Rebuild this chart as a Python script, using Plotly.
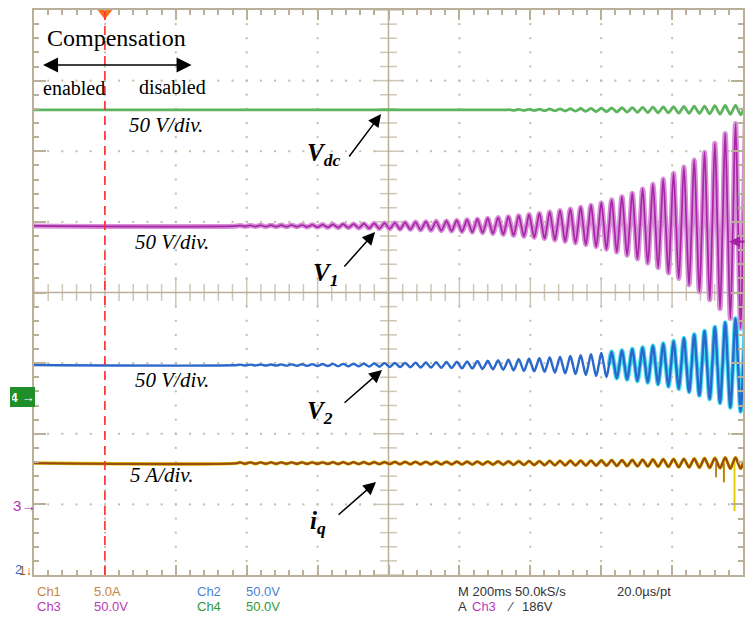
import plotly.graph_objects as go

# ---------------- data (screen divisions: x 0..10, y -4..4) ----------------
baseline_vdc = 2.585
baseline_v1 = 0.942
baseline_v2 = -1.027
baseline_iq = -2.415

cycle_start = 2.869     # div, where ripple starts to be visible
cycle_period = 0.1456   # div per oscillation cycle

# peak amplitude of each cycle (div)
vdc_amp = [0.0] * 26 + [0.005, 0.007, 0.009, 0.011, 0.013, 0.015, 0.017, 0.020, 0.022, 0.025,
                        0.028, 0.031, 0.034, 0.037, 0.040, 0.043, 0.046, 0.049, 0.052, 0.055,
                        0.059, 0.063, 0.068, 0.073]
v1_amp = [0.007, 0.008, 0.010, 0.011, 0.012, 0.013,
          0.014, 0.017, 0.020, 0.023, 0.025, 0.028, 0.033, 0.037, 0.041, 0.045,
          0.050, 0.055, 0.061, 0.067, 0.072, 0.079, 0.088, 0.096, 0.108, 0.119,
          0.132, 0.146, 0.161, 0.178, 0.198, 0.218, 0.241, 0.266, 0.295, 0.330,
          0.370, 0.415, 0.465, 0.525, 0.590, 0.665, 0.745, 0.835, 0.935, 1.045,
          1.170, 1.310, 1.450, 1.560]
v2_amp = [0.006, 0.006, 0.007, 0.008, 0.009, 0.010,
          0.011, 0.013, 0.014, 0.016, 0.017, 0.018, 0.021, 0.024, 0.027, 0.028,
          0.031, 0.034, 0.037, 0.040, 0.042, 0.047, 0.051, 0.057, 0.062, 0.068,
          0.074, 0.081, 0.088, 0.096, 0.106, 0.116, 0.127, 0.140, 0.154, 0.170,
          0.187, 0.205, 0.227, 0.248, 0.272, 0.305, 0.340, 0.382, 0.432, 0.482,
          0.538, 0.602, 0.659, 0.708]
iq_amp = [0.010] * 6 + [0.011, 0.011, 0.011, 0.013, 0.013, 0.013, 0.014, 0.014, 0.014, 0.016,
                        0.016, 0.017, 0.017, 0.018, 0.018, 0.020, 0.020, 0.021, 0.021, 0.023,
                        0.024, 0.025, 0.027, 0.028, 0.030, 0.031, 0.033, 0.034, 0.035, 0.037,
                        0.040, 0.042, 0.045, 0.048, 0.051, 0.054, 0.057, 0.059, 0.064, 0.068,
                        0.071, 0.078, 0.078, 0.078]
iq_spike_t = [9.62, 9.73, 9.88]
iq_spike_dy = [-0.20, -0.27, -0.68]
cursor_t = 1.0            # dashed "compensation disabled" cursor
trigger_level = 0.72      # right-hand trigger arrow (div)
cyan_from = 8.0           # V2 bright (cyan) part begins

# ---------------- layout geometry (pixels) ----------------
W, H = 748, 619
L, R, T, B = 34, 745, 10, 575
DX = (R - L) / 10.0
DY = (B - T) / 8.0


def PX(px):
    return (px - L) / (R - L)


def PY(py):
    return (B - py) / (B - T)


def wave(base, amps, tmin=None):
    xs, ys = ([0.0], [base]) if tmin is None else ([], [])
    for k, a in enumerate(amps):
        x0 = cycle_start + k * cycle_period
        if tmin is not None and x0 < tmin:
            continue
        for f, s in ((0.0, 0), (0.25, 1), (0.5, 0), (0.75, -1)):
            xs.append(x0 + f * cycle_period)
            ys.append(base + s * a)
    return xs, ys


TAN = "#bab09a"
DOT = "#c4bba6"
fig = go.Figure()

# dotted grid
gx, gy = [], []
for i in range(1, 10):
    if i == 5:
        continue
    for j in range(0, 41):
        gx.append(i); gy.append(-4 + j * 0.2)
for i in range(-3, 4):
    if i == 0:
        continue
    for j in range(0, 51):
        gx.append(j * 0.2); gy.append(i)
fig.add_trace(go.Scatter(x=gx, y=gy, mode="markers",
                         marker=dict(symbol="square", size=2, color=DOT), hoverinfo="skip"))

# centre cross with ticks
fig.add_shape(type="line", x0=5, x1=5, y0=-4, y1=4, line=dict(color=TAN, width=1.5), layer="below")
fig.add_shape(type="line", x0=0, x1=10, y0=0, y1=0, line=dict(color=TAN, width=1.5), layer="below")
tyv = [round(-4 + j * 0.2, 3) for j in range(41)]
txv = [round(j * 0.2, 3) for j in range(51)]
fig.add_trace(go.Scatter(x=[5] * len(tyv), y=tyv, mode="markers",
                         marker=dict(symbol="line-ew", size=[20 if abs(v - round(v)) < 1e-6 else 12 for v in tyv],
                                     line=dict(color=TAN, width=1.5)), hoverinfo="skip"))
fig.add_trace(go.Scatter(x=txv, y=[0] * len(txv), mode="markers",
                         marker=dict(symbol="line-ns", size=[20 if abs(v - round(v)) < 1e-6 else 12 for v in txv],
                                     line=dict(color=TAN, width=1.5)), hoverinfo="skip"))

# cursor
fig.add_shape(type="line", x0=cursor_t, x1=cursor_t, y0=-4, y1=4,
              line=dict(color="#ff2a2a", width=1.6, dash="9px,6px"))

# ---- traces ----
x, y = wave(baseline_vdc, vdc_amp)
fig.add_trace(go.Scatter(x=x, y=y, mode="lines", line=dict(color="#5cb55c", width=2.8, shape="spline", smoothing=1)))

x, y = wave(baseline_v1, v1_amp)
fig.add_trace(go.Scatter(x=x, y=y, mode="lines", line=dict(color="#d88fd8", width=5, shape="spline", smoothing=1)))
fig.add_trace(go.Scatter(x=x, y=y, mode="lines", line=dict(color="#a626a6", width=1.7, shape="spline", smoothing=1)))

x, y = wave(baseline_v2, v2_amp, tmin=cyan_from)
fig.add_trace(go.Scatter(x=x, y=y, mode="lines", line=dict(color="#3fdcf0", width=4.5, shape="spline", smoothing=1)))
x, y = wave(baseline_v2, v2_amp)
fig.add_trace(go.Scatter(x=x, y=y, mode="lines", line=dict(color="#2b68cc", width=2.4, shape="spline", smoothing=1)))

x, y = wave(baseline_iq, iq_amp)
fig.add_trace(go.Scatter(x=x, y=y, mode="lines", line=dict(color="#e3d000", width=3.4, shape="spline", smoothing=1)))
sx, sy = [], []
for t, d in zip(iq_spike_t, iq_spike_dy):
    sx += [t, t, None]; sy += [baseline_iq, baseline_iq + d, None]
fig.add_trace(go.Scatter(x=sx, y=sy, mode="lines", line=dict(color="#e3d000", width=2)))
fig.add_trace(go.Scatter(x=x, y=y, mode="lines", line=dict(color="#9a4a12", width=2.3, shape="spline", smoothing=1)))
fig.add_trace(go.Scatter(x=sx[:6], y=sy[:6], mode="lines", line=dict(color="#b06a30", width=1.5)))

# trigger position marker (top)
fig.add_trace(go.Scatter(x=[cursor_t], y=[4 - 3 / DY], mode="markers", cliponaxis=False,
                         marker=dict(symbol="triangle-down", size=13, color="#ff6d1a"), hoverinfo="skip"))

ann = []
serif = "Liberation Serif, Times New Roman, serif"


def txt(s, px, py, size, color="black", xanchor="left", family=serif, **kw):
    ann.append(dict(text=s, x=PX(px), y=PY(py), xref="paper", yref="paper", showarrow=False,
                    xanchor=xanchor, yanchor="middle", font=dict(family=family, size=size, color=color), **kw))


def arrow(x0, y0, x1, y1, **kw):
    d = dict(text="", x=PX(x1), y=PY(y1), ax=x0 - x1, ay=y0 - y1, xref="paper", yref="paper",
             axref="pixel", ayref="pixel",
             showarrow=True, arrowhead=2, arrowsize=1.7, arrowwidth=1.5, arrowcolor="black")
    d.update(kw)
    ann.append(d)


txt("Compensation", 45, 38, 24, family="Liberation Serif")
arrow(42, 65, 192, 65, arrowside="end+start", arrowsize=2.0, startarrowhead=2, startarrowsize=2.0)
txt("enabled", 41, 88, 20)
txt("disabled", 137, 87, 20)

txt("<i>50 V/div.</i>", 127, 125, 21)
txt("<i>50 V/div.</i>", 133, 242, 21)
txt("<i>50 V/div.</i>", 133, 380, 21)
txt("<i>5 A/div.</i>", 128, 475, 21)

txt("<b><i>V<sub>dc</sub></i></b>", 306, 155, 25)
arrow(349, 158, 382, 114)
txt("<b><i>V<sub>1</sub></i></b>", 312, 274, 25)
arrow(344, 268, 376, 232)
txt("<b><i>V<sub>2</sub></i></b>", 306, 412, 25)
arrow(344, 404, 383, 370)
txt("<b><i>i<sub>q</sub></i></b>", 309, 522, 25)
arrow(338, 516, 377, 482)

# right trigger level arrow
ann.append(dict(text="", x=PX(731), y=PY((T + B) / 2.0 - trigger_level * DY), ax=17, ay=0,
                xref="paper", yref="paper", axref="pixel", ayref="pixel",
                showarrow=True, arrowhead=2, arrowsize=1.0, arrowwidth=2.2, arrowcolor="#a323a3"))

# channel ground markers on the left
sans = "Liberation Sans Narrow, Liberation Sans, Arial, sans-serif"
ann.append(dict(text="<b>4</b> \u2192", x=PX(22), y=PY(397), xref="paper", yref="paper", showarrow=False,
                xanchor="center", yanchor="middle",
                font=dict(family=sans, size=13, color="white"), bgcolor="#1f8f2a", bordercolor="#1f8f2a",
                borderpad=1, width=21, height=16))
txt("3\u2192", 11, 505, 15, color="#b030b0", family=sans)
txt("2", 13, 569, 13, color="#3a6fd0", family=sans)
txt("1\u2193", 17, 571, 12, color="#a0561a", family=sans)

# bottom status lines
bf = sans
fs = 13
txt("Ch1", 35, 591, fs, color="#c7843f", family=bf)
txt("5.0A", 92, 591, fs, color="#c7843f", family=bf)
txt("Ch3", 35, 606, fs, color="#b63cb6", family=bf)
txt("50.0V", 92, 606, fs, color="#b63cb6", family=bf)
txt("Ch2", 195, 591, fs, color="#4a7fd4", family=bf)
txt("50.0V", 245, 591, fs, color="#4a7fd4", family=bf)
txt("Ch4", 195, 606, fs, color="#2f9a3a", family=bf)
txt("50.0V", 245, 606, fs, color="#2f9a3a", family=bf)
txt("M 200ms 50.0kS/s", 457, 591, fs, color="#333333", family=bf)
txt("20.0\u00b5s/pt", 617, 591, fs, color="#333333", family=bf)
txt("A", 457, 606, fs, color="#333333", family=bf)
txt("Ch3", 471, 606, fs, color="#b63cb6", family=bf)
txt("\u2215", 506, 606, fs, color="#333333", family=bf)
txt("186V", 521, 606, fs, color="#333333", family=bf)

fig.update_layout(
    width=W, height=H, margin=dict(l=L, r=W - R, t=T, b=H - B),
    paper_bgcolor="white", plot_bgcolor="white", showlegend=False, hovermode=False,
    annotations=ann,
    xaxis=dict(range=[0, 10], showgrid=False, zeroline=False, showticklabels=False,
               showline=True, linecolor=TAN, linewidth=1.5, mirror="allticks",
               ticks="inside", tickvals=list(range(0, 11)), ticklen=10, tickcolor=TAN, tickwidth=1.5,
               minor=dict(ticks="inside", dtick=0.2, ticklen=5, tickcolor=TAN, tickwidth=1.5, showgrid=False)),
    yaxis=dict(range=[-4, 4], showgrid=False, zeroline=False, showticklabels=False,
               showline=True, linecolor=TAN, linewidth=1.5, mirror="allticks",
               ticks="inside", tickvals=list(range(-4, 5)), ticklen=12, tickcolor=TAN, tickwidth=1.5,
               minor=dict(ticks="inside", dtick=0.2, ticklen=5, tickcolor=TAN, tickwidth=1.5, showgrid=False)),
)

fig.write_html("out.html", config={"displayModeBar": False},
               post_script="document.body.style.margin='0';")
